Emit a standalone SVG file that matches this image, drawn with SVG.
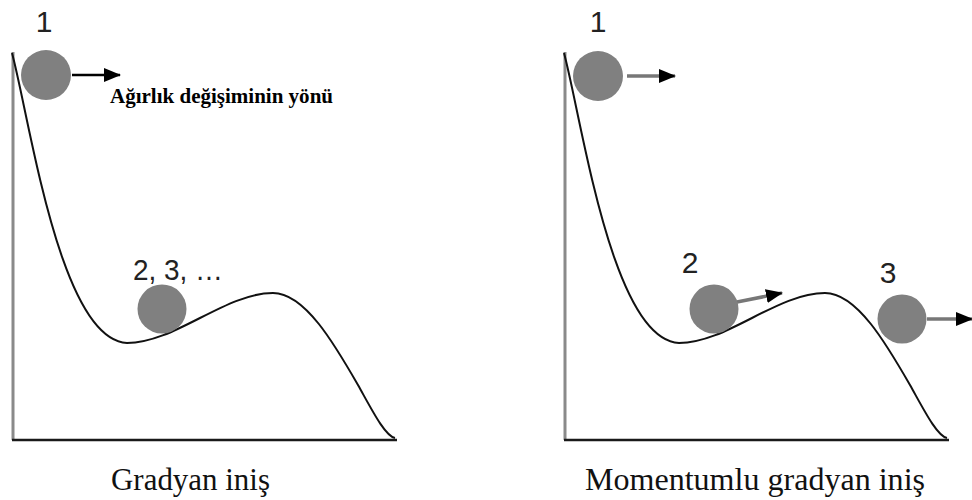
<svg xmlns="http://www.w3.org/2000/svg" width="972" height="500" viewBox="0 0 972 500">
  <style>
    .vaxis { stroke: #8a8a8a; stroke-width: 3; fill: none; }
    .haxis { stroke: #1a1a1a; stroke-width: 2.5; fill: none; }
    .curve { stroke: #111; stroke-width: 2; fill: none; }
    .ball { fill: #808080; }
    .num { font-family: "Liberation Sans", Arial, sans-serif; font-size: 30px; fill: #222; text-anchor: middle; }
    .cap { font-family: "Liberation Serif", "Times New Roman", serif; font-size: 31px; fill: #111; }
    .note { font-family: "Liberation Serif", "Times New Roman", serif; font-size: 21px; font-weight: bold; fill: #000; }
    .shaft-black { stroke: #000; stroke-width: 2.5; fill: none; }
    .shaft-gray { stroke: #777; stroke-width: 3.5; fill: none; }
  </style>
  <defs>
    <marker id="head" markerUnits="userSpaceOnUse" markerWidth="17" markerHeight="14" refX="16" refY="7" orient="auto">
      <path d="M0,0 L17,7 L0,14 z" fill="#000"/>
    </marker>
    <path id="landscape" d="M12,53 C30,120 60,340 127,343 C175,343 225,293 273,293 C305,293 335,345 358,385 C372,410 385,436 395,438"/>
  </defs>

  <g id="panel-left">
    <line class="vaxis" x1="13" y1="52" x2="13" y2="440"/>
    <line class="haxis" x1="12" y1="440" x2="397" y2="440"/>
    <use href="#landscape" class="curve"/>
  </g>

  <g id="panel-right" transform="translate(552,0)">
    <line class="vaxis" x1="13" y1="52" x2="13" y2="440"/>
    <line class="haxis" x1="12" y1="440" x2="397" y2="440"/>
    <use href="#landscape" class="curve"/>
  </g>

  <g id="left-ball-1">
    <circle class="ball" cx="46" cy="75" r="25"/>
    <text class="num" x="44" y="32">1</text>
  </g>
  <g id="left-ball-2">
    <circle class="ball" cx="162" cy="309" r="24.5"/>
    <text class="num" x="133" y="280" textLength="90" lengthAdjust="spacingAndGlyphs" style="text-anchor:start">2, 3, …</text>
  </g>
  <g id="left-note">
    <text class="note" x="110" y="103" textLength="223" lengthAdjust="spacingAndGlyphs">Ağırlık değişiminin yönü</text>
  </g>

  <g id="right-ball-1">
    <circle class="ball" cx="598" cy="76" r="25"/>
    <text class="num" x="598" y="32">1</text>
  </g>
  <g id="right-ball-2">
    <circle class="ball" cx="714" cy="309" r="24.5"/>
    <text class="num" x="690" y="273">2</text>
  </g>
  <g id="right-ball-3">
    <circle class="ball" cx="902" cy="319" r="24.5"/>
    <text class="num" x="888" y="283">3</text>
  </g>

  <g id="connectors">
    <line class="shaft-black" x1="72" y1="75" x2="120" y2="75" marker-end="url(#head)"/>
    <line class="shaft-gray" x1="627" y1="76" x2="675" y2="76" marker-end="url(#head)"/>
    <line class="shaft-gray" x1="737" y1="302" x2="782" y2="293" marker-end="url(#head)"/>
    <line class="shaft-gray" x1="927" y1="319" x2="972" y2="319" marker-end="url(#head)"/>
  </g>

  <g id="captions">
    <text class="cap" x="111" y="490" textLength="159" lengthAdjust="spacingAndGlyphs">Gradyan iniş</text>
    <text class="cap" x="585" y="490" textLength="340" lengthAdjust="spacingAndGlyphs">Momentumlu gradyan iniş</text>
  </g>
</svg>
